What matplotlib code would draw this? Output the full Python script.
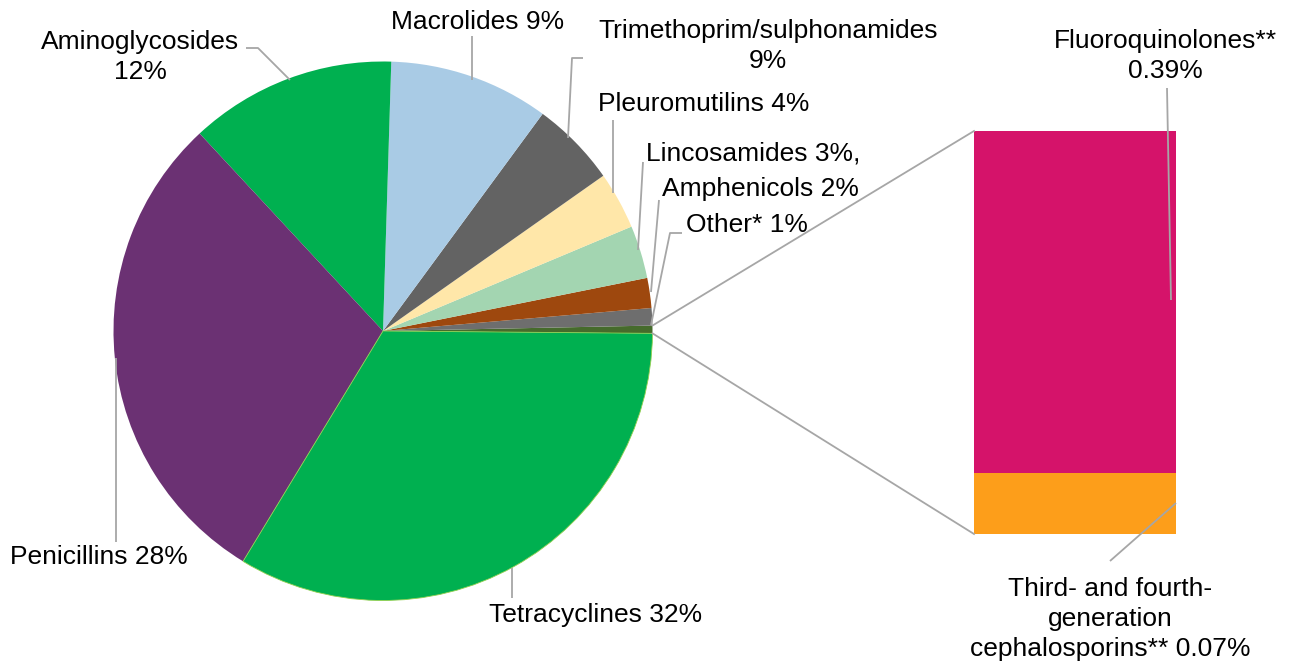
import numpy as np
import matplotlib
matplotlib.use("Agg")
import matplotlib.pyplot as plt

W, H = 1292, 667

# pie slices, counterclockwise from the right (share of total, %)
fq_share = 0.39
ceph_share = 0.07
pie_names = ["Other*", "Amphenicols", "Lincosamides", "Pleuromutilins",
             "Trimethoprim/sulphonamides", "Macrolides", "Aminoglycosides",
             "Penicillins", "Tetracyclines"]
pie_values = [1.04, 1.80, 3.17, 3.44, 5.14, 9.60, 12.40, 29.40, 33.55]
pie_colors = ["#6e6e6e", "#9e480e", "#a3d5b1", "#ffe7a9", "#636363",
              "#a9cbe5", "#00b050", "#6b3173", "#00b050"]
sliver_color = "#466b2c"
bar_colors = ["#fd9e1a", "#d5136a"]  # ceph (bottom), fq (top)

labels = {
    "Aminoglycosides": ("Aminoglycosides\n12%", 140, 57, "center"),
    "Macrolides": ("Macrolides 9%", 478, 22, "center"),
    "Trimethoprim": ("Trimethoprim/sulphonamides\n9%", 768, 46, "center"),
    "Pleuromutilins": ("Pleuromutilins 4%", 598, 104, "left"),
    "Lincosamides": ("Lincosamides 3%,", 646, 153, "left"),
    "Amphenicols": ("Amphenicols 2%", 662, 189, "left"),
    "Other": ("Other* 1%", 686, 225, "left"),
    "Penicillins": ("Penicillins 28%", 10, 557, "left"),
    "Tetracyclines": ("Tetracyclines 32%", 489, 615, "left"),
    "FQ": ("Fluoroquinolones**\n0.39%", 1165, 56, "center"),
    "Ceph": ("Third- and fourth-\ngeneration\ncephalosporins** 0.07%", 1110, 619, "center"),
}

# leader lines, image pixel coords (x, y-down)
leaders = [
    [(246, 48), (258, 48), (290, 80)],
    [(472, 36), (472, 80)],
    [(583, 58), (572, 58), (568, 138)],
    [(613, 120), (613, 193)],
    [(643, 162), (638, 250)],
    [(659, 200), (651, 292)],
    [(682, 233), (670, 233), (651, 325)],
    [(115.5, 542), (115.5, 358)],
    [(512, 598), (512, 568)],
    [(1167, 88), (1171, 300)],
    [(1110, 561), (1176, 503)],
]

plt.rcParams['font.family'] = ['Liberation Sans', 'DejaVu Sans']

fig = plt.figure(figsize=(W / 100, H / 100), dpi=100)
ax = fig.add_axes([0, 0, 1, 1])

cx, cy, r = 383, H - 331, 269.5
sliver = fq_share + ceph_share
vals = [sliver] + pie_values
cols = [sliver_color] + pie_colors
start = -0.5
wedges, _ = ax.pie(vals, colors=cols, startangle=start, counterclock=True,
                   center=(cx, cy), radius=r, frame=True,
                   wedgeprops=dict(linewidth=0))
wedges[-1].set_edgecolor("#92d050")
wedges[-1].set_linewidth(0.6)

# bar of the split slice
bar_x, bar_w = 1075, 202
bar_bottom = H - 534
scale = 403 / sliver
ax.bar(bar_x, ceph_share * scale, width=bar_w, bottom=bar_bottom, color=bar_colors[0], linewidth=0)
ax.bar(bar_x, fq_share * scale, width=bar_w, bottom=bar_bottom + ceph_share * scale,
       color=bar_colors[1], linewidth=0)

# connectors from sliver edges to bar corners
lc = "#a6a6a6"
t1, t2 = np.deg2rad(wedges[0].theta1), np.deg2rad(wedges[0].theta2)
top_pt = (cx + r * np.cos(t2), cy + r * np.sin(t2))
bot_pt = (cx + r * np.cos(t1), cy + r * np.sin(t1))
bar_top = bar_bottom + sliver * scale
ax.plot([top_pt[0], bar_x - bar_w / 2], [top_pt[1], bar_top], color=lc, lw=1.3)
ax.plot([bot_pt[0], bar_x - bar_w / 2], [bot_pt[1], bar_bottom], color=lc, lw=1.3)

for pts in leaders:
    xs = [p[0] for p in pts]
    ys = [H - p[1] for p in pts]
    ax.plot(xs, ys, color=lc, lw=1.3, solid_capstyle="butt")

for key, (txt, x, y, ha) in labels.items():
    ax.text(x, H - y, txt, ha=ha, va="center", fontsize=19, color="black",
            linespacing=1.3)

ax.set_xlim(0, W)
ax.set_ylim(0, H)
ax.set_aspect("equal")
ax.axis("off")

fig.savefig("out.png", dpi=100)
